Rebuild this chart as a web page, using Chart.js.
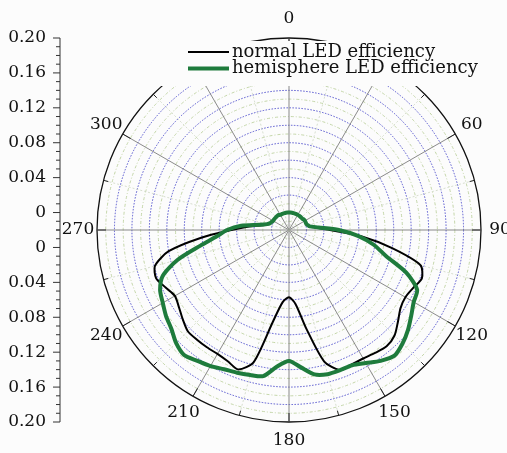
<!DOCTYPE html>
<html>
<head>
<meta charset="utf-8">
<script src="https://cdn.jsdelivr.net/npm/chart.js@4.4.0/dist/chart.umd.min.js"></script>
<style>
  html, body { margin: 0; padding: 0; background: #fcfcfc; }
  #wrap { width: 507px; height: 453px; }
</style>
</head>
<body>
<div id="wrap"><canvas id="chart" width="507" height="453"></canvas></div>
<script>
// angles in degrees, clockwise from the top
const angles = [
  0, 5, 10, 15, 20, 25, 30, 35, 40, 45, 50, 55,
  60, 65, 70, 75, 80, 85, 90, 95, 100, 105, 110, 115,
  120, 125, 130, 135, 140, 145, 150, 155, 160, 165, 170, 175,
  180, 185, 190, 195, 200, 205, 210, 215, 220, 225, 230, 235,
  240, 245, 250, 255, 260, 265, 270, 275, 280, 285, 290, 295,
  300, 305, 310, 315, 320, 325, 330, 335, 340, 345, 350, 355
];

const normalEff = [
  0.000, 0.000, 0.000, 0.000, 0.000, 0.000, 0.000, 0.000, 0.000, 0.000, 0.000, 0.001,
  0.001, 0.001, 0.001, 0.002, 0.003, 0.011, 0.027, 0.063, 0.100, 0.136, 0.142, 0.137,
  0.134, 0.136, 0.143, 0.151, 0.154, 0.152, 0.150, 0.150, 0.151, 0.136, 0.095, 0.065,
  0.057, 0.063, 0.087, 0.137, 0.150, 0.146, 0.144, 0.144, 0.144, 0.144, 0.139, 0.134,
  0.131, 0.136, 0.142, 0.139, 0.120, 0.081, 0.046, 0.026, 0.011, 0.005, 0.003, 0.002,
  0.001, 0.001, 0.001, 0.001, 0.001, 0.001, 0.000, 0.000, 0.000, 0.000, 0.000, 0.000
];

const hemiEff = [
  0.000, 0.000, 0.000, 0.000, 0.000, 0.000, 0.000, 0.000, 0.000, 0.000, 0.000, 0.001,
  0.001, 0.001, 0.001, 0.002, 0.004, 0.014, 0.037, 0.060, 0.079, 0.095, 0.123, 0.142,
  0.145, 0.151, 0.158, 0.164, 0.168, 0.163, 0.156, 0.151, 0.151, 0.151, 0.148, 0.138,
  0.130, 0.137, 0.150, 0.152, 0.154, 0.156, 0.160, 0.163, 0.167, 0.163, 0.156, 0.152,
  0.147, 0.143, 0.134, 0.112, 0.083, 0.063, 0.051, 0.035, 0.014, 0.006, 0.003, 0.002,
  0.001, 0.001, 0.001, 0.001, 0.001, 0.001, 0.000, 0.000, 0.000, 0.000, 0.000, 0.000
];

// angle labels that are visible in the figure (30 and 330 sit under the legend)
const shownAngles = [0, 60, 90, 120, 150, 180, 210, 240, 270, 300];

// radial axis drawn on the left, mirrored above and below the centre
const radialTickValues = [0, 0.04, 0.08, 0.12, 0.16, 0.20];
const radialTickLabels = ['0', '0.04', '0.08', '0.12', '0.16', '0.20'];

const seriesNames = ['normal LED efficiency', 'hemisphere LED efficiency'];

const hundredths = v => Math.round(v * 100);

const polarDecor = {
  id: 'polarDecor',
  afterDraw(chart) {
    const r = chart.scales.r;
    const ctx = chart.ctx;
    const outer = r.getDistanceFromCenterForValue(r.max);
    ctx.save();

    // ticks on the outer circle, every 15 degrees
    ctx.strokeStyle = '#222';
    ctx.lineWidth = 1;
    angles.forEach((a, i) => {
      if (a % 15 !== 0) return;
      const len = a % 30 === 0 ? 9 : 5;
      const p1 = r.getPointPosition(i, outer);
      const p2 = r.getPointPosition(i, outer - len);
      ctx.beginPath();
      ctx.moveTo(p1.x, p1.y);
      ctx.lineTo(p2.x, p2.y);
      ctx.stroke();
    });

    // angle labels
    ctx.font = '17px "DejaVu Serif"';
    ctx.fillStyle = '#111';
    ctx.textAlign = 'center';
    ctx.textBaseline = 'middle';
    shownAngles.forEach(a => {
      const i = angles.indexOf(a);
      const p = r.getPointPosition(i, outer + 19);
      ctx.fillText(String(a), p.x, p.y);
    });

    // legend on a plain box
    ctx.fillStyle = '#fcfcfc';
    ctx.fillRect(160, 41, 325, 45);
    ctx.font = '18px "DejaVu Serif"';
    ctx.textAlign = 'left';
    chart.data.datasets.forEach((ds, k) => {
      const y = 52 + k * 16.5;
      ctx.strokeStyle = ds.borderColor;
      ctx.lineWidth = ds.borderWidth;
      ctx.beginPath();
      ctx.moveTo(188, y);
      ctx.lineTo(229, y);
      ctx.stroke();
      ctx.fillStyle = '#111';
      ctx.fillText(ds.label, 232, y);
    });

    // left radial axis, mirrored
    const ax = 60;
    const yc = r.yCenter;
    ctx.strokeStyle = '#333';
    ctx.lineWidth = 1;
    ctx.beginPath();
    ctx.moveTo(ax, yc - outer);
    ctx.lineTo(ax, yc + outer);
    ctx.stroke();
    ctx.font = '17px "DejaVu Serif"';
    ctx.fillStyle = '#111';
    ctx.textAlign = 'right';
    r.ticks.forEach(t => {
      const d = r.getDistanceFromCenterForValue(t.value);
      const k = hundredths(t.value);
      const major = k >= 0 && k % 4 === 0;
      const len = major ? 7 : 4;
      [-1, 1].forEach(s => {
        ctx.beginPath();
        ctx.moveTo(ax - len, yc + s * d);
        ctx.lineTo(ax, yc + s * d);
        ctx.stroke();
      });
    });
    radialTickValues.forEach((v, j) => {
      const d = r.getDistanceFromCenterForValue(v);
      ctx.fillText(radialTickLabels[j], 46, yc - d);
      ctx.fillText(radialTickLabels[j], 46, yc + d);
    });

    ctx.restore();
  }
};

new Chart(document.getElementById('chart'), {
  type: 'radar',
  data: {
    labels: angles,
    datasets: [
      {
        label: seriesNames[0],
        data: normalEff,
        borderColor: '#000000',
        borderWidth: 2,
        fill: false,
        tension: 0.25,
        order: 1
      },
      {
        label: seriesNames[1],
        data: hemiEff,
        borderColor: '#1e7b3c',
        borderWidth: 4,
        fill: false,
        tension: 0.25,
        order: 0
      }
    ]
  },
  options: {
    responsive: false,
    animation: false,
    layout: { padding: { left: 97, right: 26, top: 38, bottom: 31 } },
    elements: { point: { radius: 0, hoverRadius: 0 } },
    plugins: { legend: { display: false }, tooltip: { enabled: false } },
    scales: {
      r: {
        min: -0.02,
        max: 0.2,
        ticks: { display: false, stepSize: 0.01 },
        pointLabels: { display: false },
        grid: {
          circular: true,
          color: c => {
            const k = hundredths(c.tick.value);
            if (k === 20) return '#111';
            return k % 2 === 0 ? 'rgba(60,60,200,0.85)' : 'rgba(190,210,160,0.9)';
          },
          lineWidth: c => (hundredths(c.tick.value) === 20 ? 1.3 : 1)
        },
        border: {
          dash: c => {
            const k = hundredths(c.tick.value);
            if (k === 20) return [];
            return k % 2 === 0 ? [1.5, 1.5] : [3, 2, 1, 2];
          }
        },
        angleLines: {
          color: c => {
            const a = Number(c.label);
            if (a % 30 === 0) return 'rgba(125,125,125,0.9)';
            return a % 15 === 0 ? 'rgba(205,215,195,0.8)' : 'transparent';
          },
          lineWidth: c => (Number(c.label) % 15 === 0 ? 1 : 0),
          borderDash: c => (Number(c.label) % 30 === 0 ? [] : [2, 2])
        }
      }
    }
  },
  plugins: [polarDecor]
});
</script>
</body>
</html>
